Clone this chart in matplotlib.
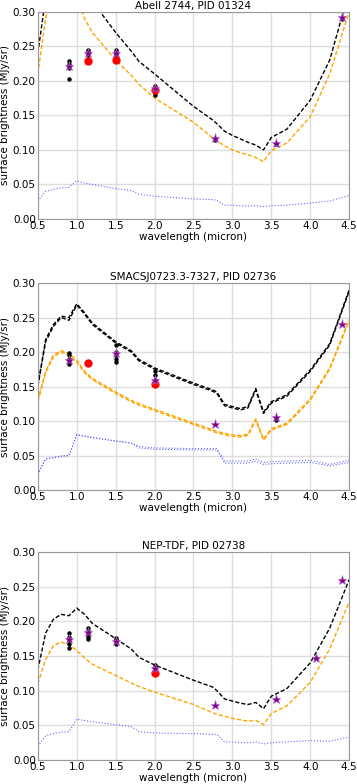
import matplotlib
matplotlib.use("Agg")
import matplotlib.pyplot as plt
import numpy as np

wave = [0.5, 0.6, 0.7, 0.8, 0.9, 1.0, 1.1, 1.2, 1.5, 1.7, 1.8, 2.0, 2.5, 2.75, 2.8, 2.9, 3.0, 3.1, 3.2, 3.3, 3.4, 3.5, 3.7, 4.0, 4.25, 4.5]

titles = ["Abell 2744, PID 01324", "SMACSJ0723.3-7327, PID 02736", "NEP-TDF, PID 02738"]

# total model (black)
black_a = [0.24, 0.32, 0.36, 0.38, 0.38, 0.37, 0.345, 0.315, 0.27, 0.243, 0.228, 0.21, 0.163, 0.143, 0.138, 0.127, 0.121, 0.116, 0.111, 0.107, 0.100, 0.118, 0.130, 0.172, 0.230, 0.330]
black_b = [0.150, 0.215, 0.237, 0.250, 0.246, 0.268, 0.255, 0.240, 0.213, 0.200, 0.187, 0.175, 0.153, 0.143, 0.140, 0.122, 0.119, 0.116, 0.119, 0.145, 0.111, 0.126, 0.136, 0.172, 0.210, 0.288]
black_c = [0.130, 0.183, 0.203, 0.210, 0.208, 0.219, 0.210, 0.197, 0.175, 0.160, 0.148, 0.137, 0.115, 0.105, 0.100, 0.088, 0.085, 0.082, 0.080, 0.083, 0.074, 0.092, 0.103, 0.140, 0.190, 0.260]
# zodi model (orange)
orange_a = [0.21, 0.29, 0.34, 0.36, 0.35, 0.32, 0.29, 0.27, 0.23, 0.208, 0.195, 0.175, 0.140, 0.117, 0.113, 0.106, 0.100, 0.096, 0.093, 0.089, 0.083, 0.099, 0.110, 0.148, 0.210, 0.300]
orange_b = [0.128, 0.170, 0.193, 0.200, 0.195, 0.185, 0.170, 0.160, 0.140, 0.128, 0.123, 0.115, 0.095, 0.085, 0.083, 0.080, 0.078, 0.077, 0.079, 0.101, 0.072, 0.087, 0.095, 0.130, 0.175, 0.245]
orange_c = [0.110, 0.145, 0.165, 0.170, 0.166, 0.158, 0.147, 0.138, 0.122, 0.111, 0.106, 0.098, 0.080, 0.068, 0.066, 0.063, 0.060, 0.058, 0.056, 0.057, 0.051, 0.067, 0.078, 0.112, 0.160, 0.228]
# other components (blue)
blue_a = [0.026, 0.040, 0.043, 0.045, 0.046, 0.055, 0.052, 0.050, 0.044, 0.041, 0.036, 0.033, 0.029, 0.028, 0.027, 0.020, 0.020, 0.019, 0.019, 0.019, 0.018, 0.019, 0.020, 0.023, 0.026, 0.034]
blue_b = [0.023, 0.045, 0.047, 0.049, 0.050, 0.080, 0.078, 0.076, 0.071, 0.068, 0.061, 0.059, 0.058, 0.058, 0.058, 0.039, 0.039, 0.039, 0.039, 0.042, 0.037, 0.038, 0.039, 0.040, 0.035, 0.040]
blue_c = [0.020, 0.035, 0.038, 0.040, 0.041, 0.059, 0.057, 0.055, 0.051, 0.048, 0.041, 0.039, 0.038, 0.037, 0.037, 0.026, 0.026, 0.025, 0.025, 0.026, 0.023, 0.025, 0.026, 0.028, 0.027, 0.033]
# second realisation offsets (upper envelope)
black_b2 = [0.152, 0.218, 0.240, 0.252, 0.250, 0.270, 0.257, 0.242, 0.215, 0.202, 0.189, 0.177, 0.155, 0.145, 0.142, 0.124, 0.121, 0.118, 0.121, 0.147, 0.113, 0.128, 0.138, 0.174, 0.212, 0.290]
orange_b2 = [0.130, 0.172, 0.196, 0.202, 0.198, 0.188, 0.172, 0.162, 0.142, 0.130, 0.125, 0.117, 0.097, 0.087, 0.085, 0.082, 0.080, 0.079, 0.081, 0.103, 0.074, 0.089, 0.097, 0.132, 0.177, 0.247]
blue_b2 = [0.023, 0.045, 0.047, 0.049, 0.050, 0.080, 0.078, 0.076, 0.071, 0.068, 0.063, 0.061, 0.060, 0.060, 0.060, 0.042, 0.042, 0.042, 0.042, 0.045, 0.040, 0.041, 0.042, 0.043, 0.037, 0.043]

# measurements
dots_a_x = [0.9, 0.9, 0.9, 0.9, 1.15, 1.15, 1.15, 1.15, 1.5, 1.5, 1.5, 2.0, 2.0, 2.0, 2.0, 2.77, 3.56, 4.41]
dots_a_y = [0.228, 0.225, 0.218, 0.202, 0.245, 0.242, 0.238, 0.232, 0.245, 0.242, 0.238, 0.192, 0.188, 0.184, 0.180, 0.115, 0.108, 0.290]
stars_a_x = [0.9, 1.15, 1.5, 2.0, 2.77, 3.56, 4.41]
stars_a_y = [0.222, 0.241, 0.240, 0.189, 0.117, 0.110, 0.292]
red_a_x = [1.15, 1.5, 2.0]
red_a_y = [0.228, 0.230, 0.187]

dots_b_x = [0.9, 0.9, 0.9, 0.9, 0.9, 1.5, 1.5, 1.5, 1.5, 1.5, 2.0, 2.0, 2.0, 2.0, 3.56, 3.56]
dots_b_y = [0.198, 0.195, 0.190, 0.185, 0.182, 0.210, 0.200, 0.195, 0.190, 0.186, 0.172, 0.166, 0.160, 0.155, 0.105, 0.102]
stars_b_x = [0.9, 1.5, 2.0, 2.77, 3.56, 4.41]
stars_b_y = [0.189, 0.199, 0.159, 0.096, 0.106, 0.240]
red_b_x = [1.15, 2.0]
red_b_y = [0.184, 0.153]

dots_c_x = [0.9, 0.9, 0.9, 0.9, 0.9, 1.15, 1.15, 1.15, 1.15, 1.15, 1.5, 1.5, 1.5, 1.5, 2.0, 2.0, 2.0, 2.0, 4.08]
dots_c_y = [0.183, 0.178, 0.172, 0.167, 0.161, 0.190, 0.186, 0.182, 0.178, 0.175, 0.176, 0.173, 0.170, 0.167, 0.137, 0.133, 0.130, 0.126, 0.147]
stars_c_x = [0.9, 1.15, 1.5, 2.0, 2.77, 3.56, 4.08, 4.41]
stars_c_y = [0.174, 0.185, 0.172, 0.133, 0.079, 0.088, 0.147, 0.260]
red_c_x = [2.0]
red_c_y = [0.125]

panels = [
    dict(title=titles[0], black=[black_a], orange=[orange_a], blue=[blue_a],
         dx=dots_a_x, dy=dots_a_y, sx=stars_a_x, sy=stars_a_y, rx=red_a_x, ry=red_a_y),
    dict(title=titles[1], black=[black_b, black_b2], orange=[orange_b, orange_b2], blue=[blue_b, blue_b2],
         dx=dots_b_x, dy=dots_b_y, sx=stars_b_x, sy=stars_b_y, rx=red_b_x, ry=red_b_y),
    dict(title=titles[2], black=[black_c], orange=[orange_c], blue=[blue_c],
         dx=dots_c_x, dy=dots_c_y, sx=stars_c_x, sy=stars_c_y, rx=red_c_x, ry=red_c_y),
]

fig = plt.figure(figsize=(3.57, 7.84), dpi=100)
rects = [(0.106, 0.7207, 0.872, 0.2643), (0.106, 0.375, 0.872, 0.264), (0.106, 0.0306, 0.872, 0.2654)]
fs = 7.5

for rect, p in zip(rects, panels):
    ax = fig.add_axes(rect)
    for ys in p["blue"]:
        ax.plot(wave, ys, color="#6666ff", lw=0.8, ls=":")
    for ys in p["orange"]:
        ax.plot(wave, ys, color="orange", lw=1.0, ls=(0, (3, 1.5)))
    for ys in p["black"]:
        ax.plot(wave, ys, color="black", lw=1.0, ls=(0, (3, 1.5)))
    ax.plot(p["dx"], p["dy"], "o", color="black", ms=2.2, ls="none")
    ax.plot(p["rx"], p["ry"], "o", color="red", ms=5, ls="none")
    ax.plot(p["sx"], p["sy"], "*", color="purple", mec="#b060d0", mew=0.5, ms=6.5, ls="none")
    ax.set_xlim(0.5, 4.5)
    ax.set_ylim(0.0, 0.30)
    ax.set_xticks(np.arange(0.5, 4.51, 0.5))
    ax.set_yticks(np.arange(0.0, 0.301, 0.05))
    ax.set_xticklabels(["%.1f" % v for v in np.arange(0.5, 4.51, 0.5)])
    ax.set_yticklabels(["%.2f" % v for v in np.arange(0.0, 0.301, 0.05)])
    ax.grid(True, color="#dddddd", lw=1.0)
    ax.set_axisbelow(True)
    ax.tick_params(length=0, pad=1.5, labelsize=fs)
    for s in ax.spines.values():
        s.set_color("#999999")
        s.set_linewidth(0.8)
    ax.set_title(p["title"], fontsize=fs, pad=2)
    ax.set_xlabel("wavelength (micron)", fontsize=fs, labelpad=1)
    ax.set_ylabel("surface brightness (MJy/sr)", fontsize=fs, labelpad=2)

fig.savefig("out.png", dpi=100)
